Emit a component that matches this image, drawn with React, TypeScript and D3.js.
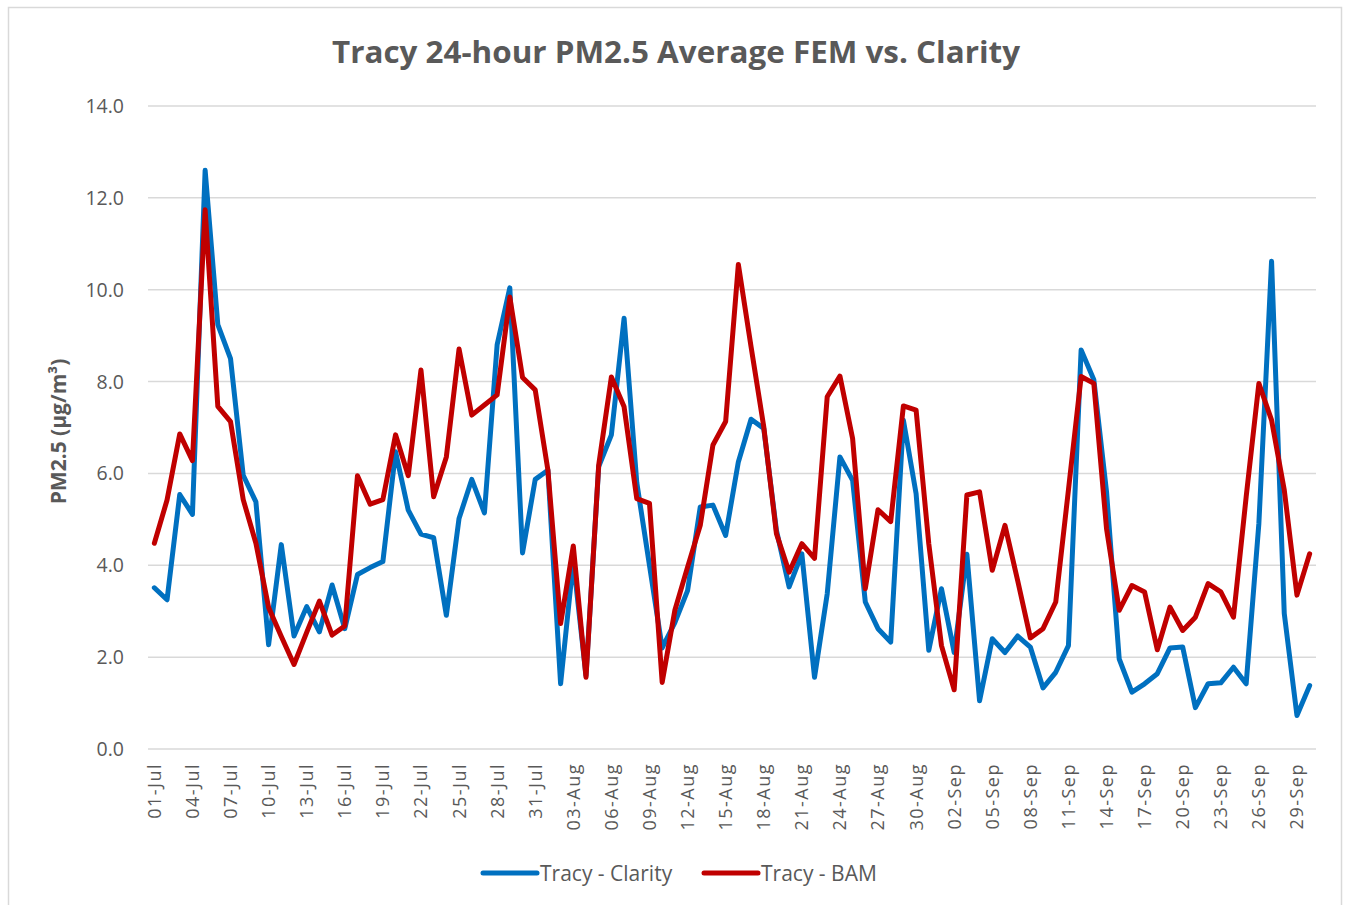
import React from "react";
import * as d3 from "d3";

const title = "Tracy 24-hour PM2.5 Average FEM vs. Clarity";
const yAxisTitle = "PM2.5 (µg/m³)";
const seriesNames = ["Tracy - Clarity", "Tracy - BAM"];
const seriesColors = ["#0070C0", "#C00000"];

const months = [
  { name: "Jul", days: 31 },
  { name: "Aug", days: 31 },
  { name: "Sep", days: 30 },
];
const categories: string[] = months.flatMap((m) =>
  Array.from({ length: m.days }, (_, i) => `${String(i + 1).padStart(2, "0")}-${m.name}`)
);

const clarity = [
  3.51, 3.25, 5.54, 5.11, 12.6, 9.24, 8.5, 5.96, 5.38, 2.27,
  4.45, 2.46, 3.1, 2.55, 3.57, 2.62, 3.8, 3.95, 4.08, 6.47,
  5.2, 4.68, 4.6, 2.91, 5.02, 5.87, 5.14, 8.8, 10.04, 4.27,
  5.87, 6.07, 1.42, 4.1, 1.6, 6.15, 6.84, 9.38, 5.8, 4.0,
  2.2, 2.75, 3.45, 5.27, 5.31, 4.65, 6.25, 7.18, 6.98, 4.76,
  3.53, 4.25, 1.56, 3.38, 6.36, 5.85, 3.2, 2.62, 2.33, 7.16,
  5.56, 2.15, 3.49, 2.1, 4.24, 1.05, 2.4, 2.1, 2.46, 2.22,
  1.33, 1.67, 2.25, 8.69, 8.04, 5.6, 1.96, 1.24, 1.42, 1.64,
  2.2, 2.22, 0.9, 1.42, 1.44, 1.78, 1.42, 4.91, 10.62, 2.95,
  0.73, 1.38,
];

const bam = [
  4.48, 5.42, 6.86, 6.28, 11.74, 7.46, 7.13, 5.43, 4.48, 3.08,
  2.45, 1.84, 2.54, 3.22, 2.48, 2.68, 5.95, 5.33, 5.43, 6.84,
  5.95, 8.25, 5.49, 6.36, 8.71, 7.27, 7.49, 7.71, 9.84, 8.09,
  7.82, 6.07, 2.73, 4.42, 1.56, 6.18, 8.1, 7.45, 5.45, 5.35,
  1.45, 3.02, 3.96, 4.87, 6.62, 7.13, 10.55, 8.76, 7.02, 4.69,
  3.85, 4.47, 4.15, 7.67, 8.12, 6.76, 3.49, 5.21, 4.95, 7.47,
  7.38, 4.47, 2.25, 1.29, 5.53, 5.6, 3.89, 4.87, 3.67, 2.42,
  2.62, 3.2, 5.64, 8.11, 7.96, 4.8, 3.02, 3.56, 3.42, 2.16,
  3.09, 2.58, 2.87, 3.6, 3.42, 2.87, 5.49, 7.96, 7.16, 5.64,
  3.35, 4.25,
];

const yTicks = [0, 2, 4, 6, 8, 10, 12, 14];

export default function App() {
  const W = 1346;
  const H = 905;
  const left = 148;
  const right = 1316;
  const top = 106;
  const bottom = 749;

  const x = d3
    .scaleBand<string>()
    .domain(categories)
    .range([left, right])
    .padding(0);
  const cx = (c: string) => (x(c) as number) + x.bandwidth() / 2;
  const y = d3.scaleLinear().domain([0, 14]).range([bottom, top]);

  const line = d3
    .line<number>()
    .x((_, i) => cx(categories[i]))
    .y((d) => y(d));

  const series = [clarity, bam];
  const gray = "#595959";
  const font = "'Open Sans', 'Noto Sans', sans-serif";

  return (
    <svg
      width={W}
      height={H}
      style={{ position: "absolute", left: 0, top: 0, background: "#fff" }}
      fontFamily={font}
    >
      <rect x={8.5} y={7.5} width={1333} height={910} fill="#fff" stroke="#D9D9D9" strokeWidth={1.5} />
      <text
        x={676}
        y={63}
        textAnchor="middle"
        fontSize={30}
        fontWeight={700}
        fill={gray}
        textLength={688}
        lengthAdjust="spacingAndGlyphs"
      >
        {title}
      </text>

      {yTicks.map((t) => (
        <g key={t}>
          <line x1={left} x2={right} y1={y(t)} y2={y(t)} stroke="#D9D9D9" strokeWidth={1.5} />
          <text x={124} y={y(t)} dy="0.36em" textAnchor="end" fontSize={19.5} fill={gray}>
            {t.toFixed(1)}
          </text>
        </g>
      ))}

      <text
        transform={`translate(66,${(top + bottom) / 2 + 4}) rotate(-90)`}
        textAnchor="middle"
        fontSize={21}
        fontWeight={700}
        fill={gray}
      >
        {yAxisTitle}
      </text>

      {categories.map((c, i) =>
        i % 3 === 0 ? (
          <text
            key={c}
            transform={`translate(${cx(c)},763) rotate(-90)`}
            textAnchor="end"
            dy="0.36em"
            fontSize={18}
            letterSpacing={1.5}
            fill={gray}
          >
            {c}
          </text>
        ) : null
      )}

      {series.map((s, k) => (
        <path
          key={k}
          d={line(s) as string}
          fill="none"
          stroke={seriesColors[k]}
          strokeWidth={5}
          strokeLinejoin="round"
          strokeLinecap="round"
        />
      ))}

      {[0, 1].map((k) => {
        const x0 = k === 0 ? 483 : 704;
        return (
          <g key={k}>
            <line
              x1={x0}
              x2={x0 + 54}
              y1={873}
              y2={873}
              stroke={seriesColors[k]}
              strokeWidth={5}
              strokeLinecap="round"
            />
            <text x={x0 + 57} y={873} dy="0.36em" fontSize={21} fill={gray}>
              {seriesNames[k]}
            </text>
          </g>
        );
      })}
    </svg>
  );
}
